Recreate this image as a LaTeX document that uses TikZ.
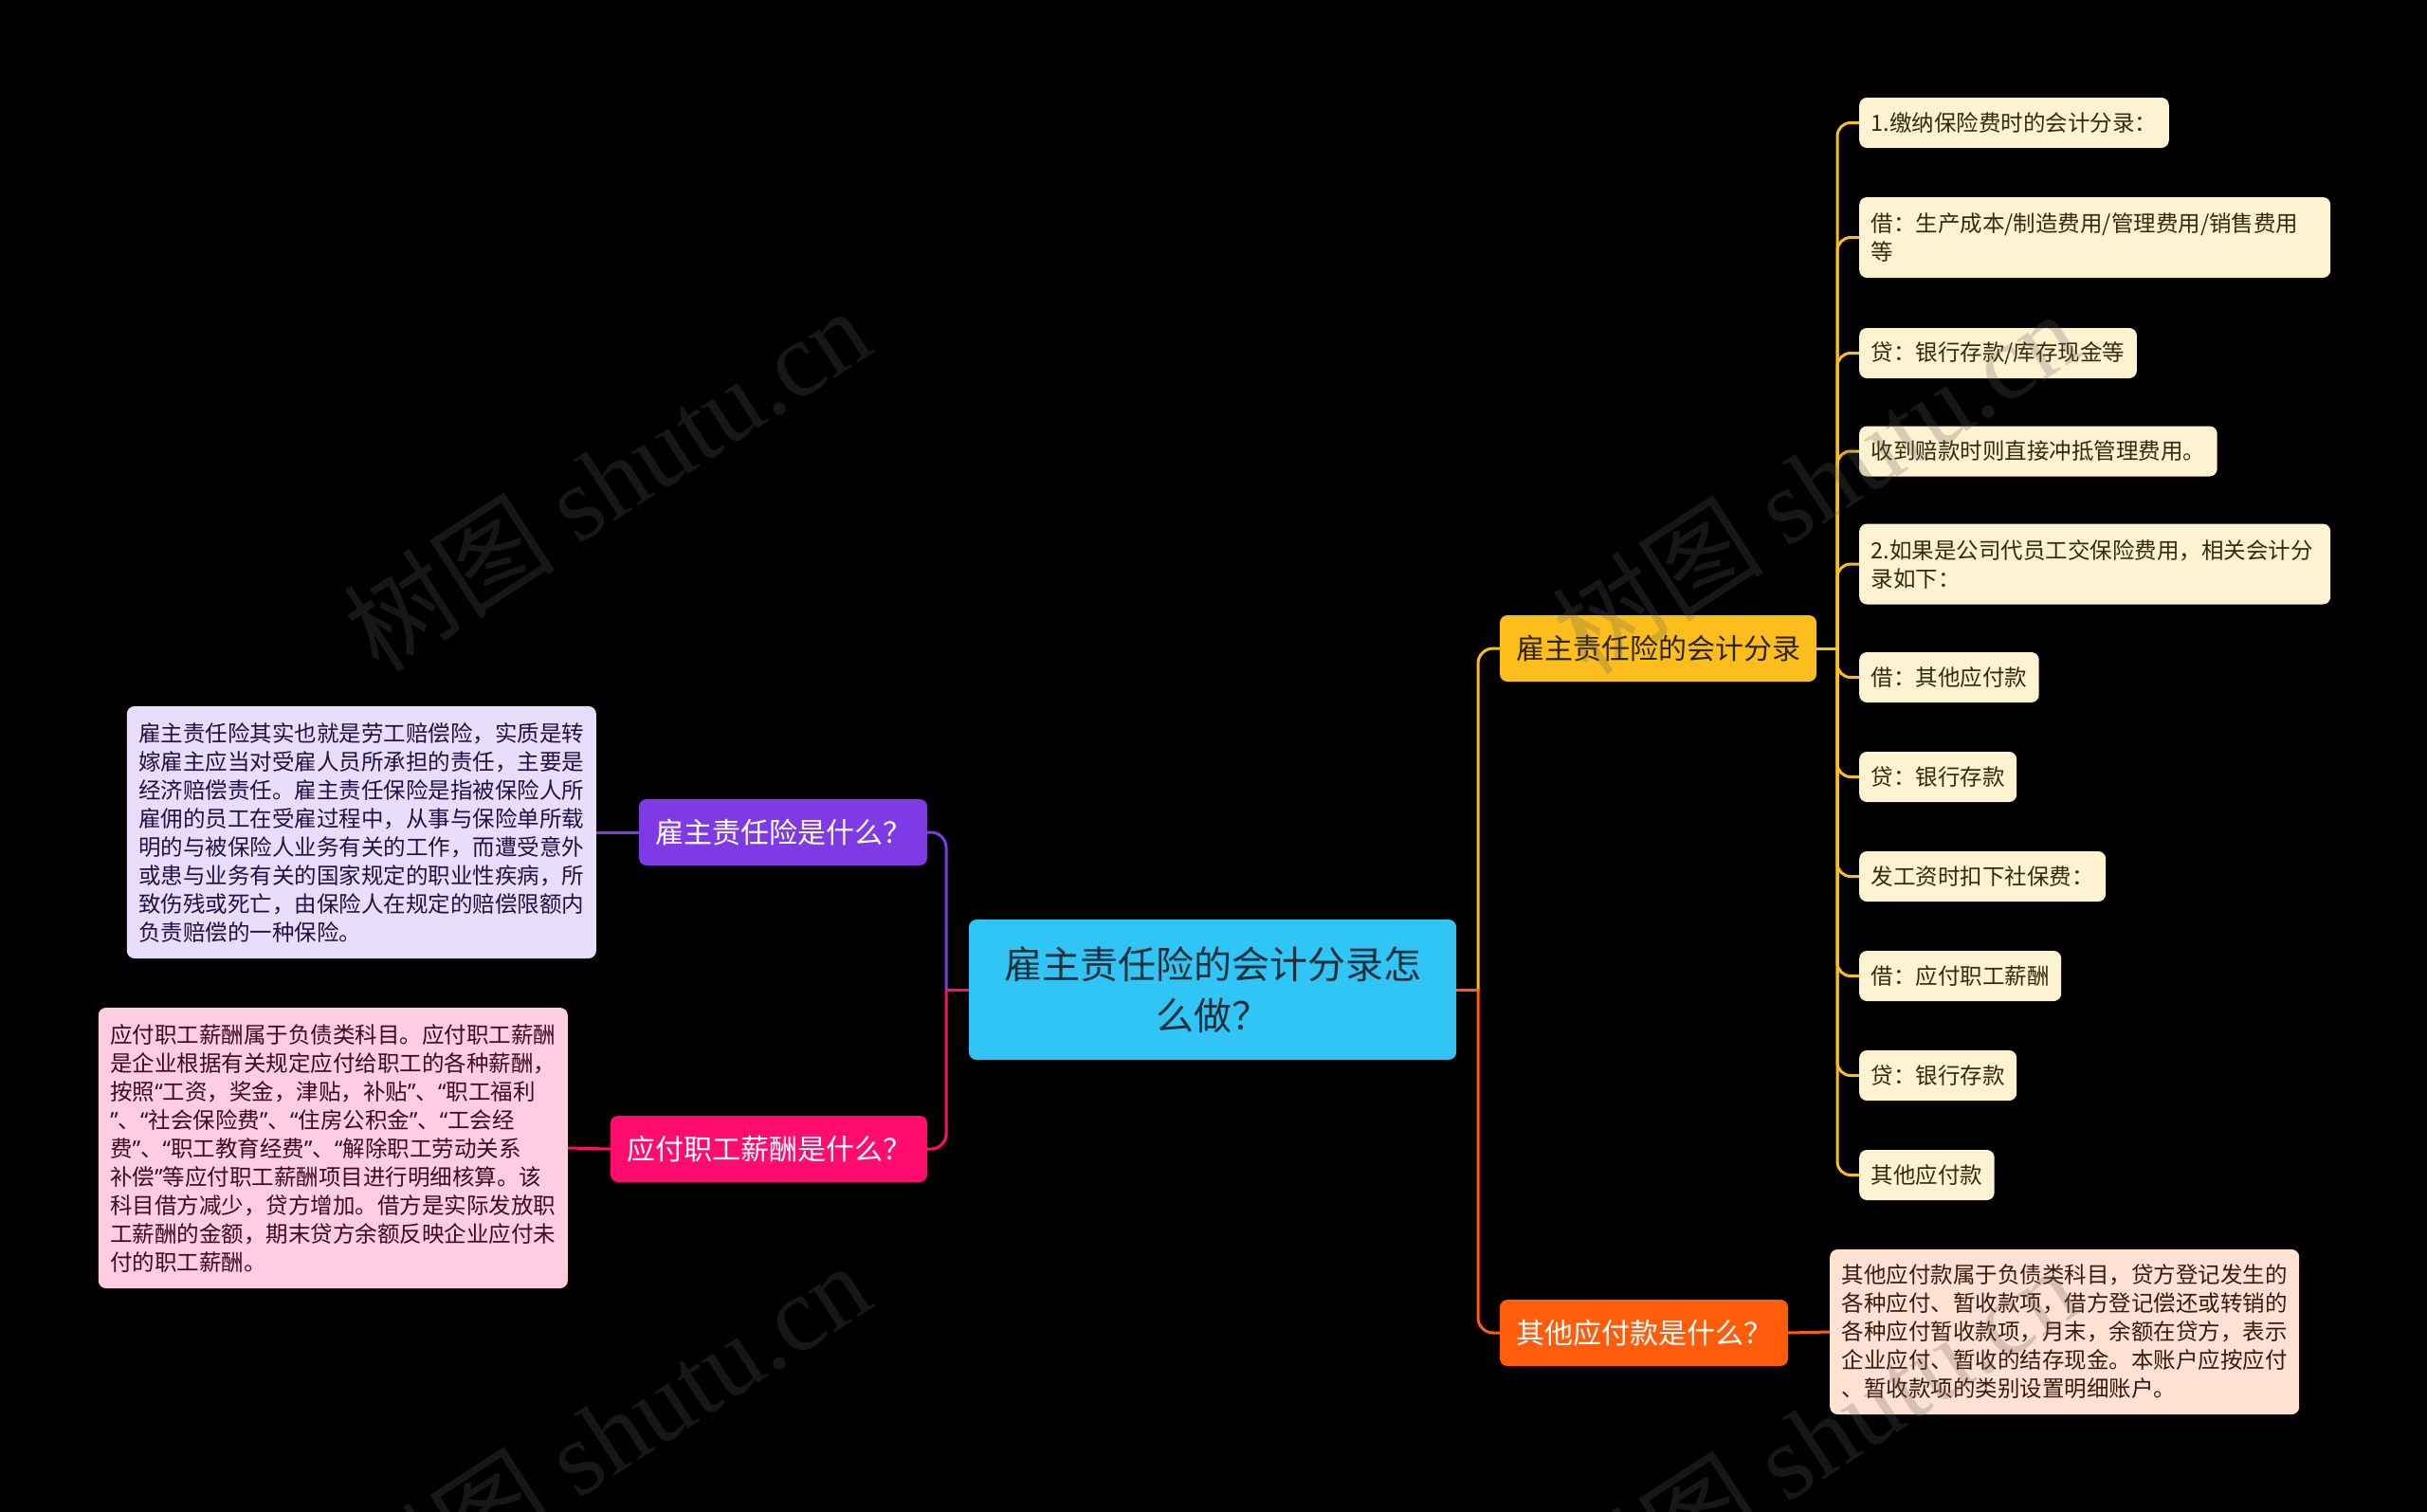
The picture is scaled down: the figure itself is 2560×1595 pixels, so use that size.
\documentclass[tikz,border=0pt]{standalone}
\usepackage{fontspec}
\setmainfont{Noto Sans CJK SC}
\newfontfamily\wmlatin{Liberation Serif}
\newfontfamily\qfont{Noto Sans}
\newcommand{\myqo}{{\qfont “}}
\newcommand{\myqc}{{\qfont ”}}
\usetikzlibrary{backgrounds}
\definecolor{cCen}{RGB}{48,197,245}
\definecolor{cCenT}{RGB}{28,48,60}
\definecolor{cPur}{RGB}{126,58,228}
\definecolor{cPink}{RGB}{255,12,110}
\definecolor{cYel}{RGB}{251,190,28}
\definecolor{cYelT}{RGB}{45,35,5}
\definecolor{cOra}{RGB}{255,92,12}
\definecolor{cLav}{RGB}{232,222,251}
\definecolor{cLavT}{RGB}{35,15,70}
\definecolor{cPinkL}{RGB}{255,205,226}
\definecolor{cPinkT}{RGB}{60,10,30}
\definecolor{cCream}{RGB}{254,243,209}
\definecolor{cCreamT}{RGB}{55,42,10}
\definecolor{cPeach}{RGB}{255,226,212}
\definecolor{cPeachT}{RGB}{60,25,10}
\definecolor{cWm}{RGB}{95,95,95}
\begin{document}
\begin{tikzpicture}[x=1pt,y=-1pt,
  base/.style={rounded corners=8pt, inner ysep=0pt},
  branch/.style={base, minimum height=70pt, inner xsep=0pt, align=center, font=\fontsize{30}{36}\selectfont},
  leaf/.style={base, inner xsep=12.5pt, align=left, font=\fontsize{23.5}{30}\selectfont, anchor=west},
  cream/.style={leaf, fill=cCream, text=cCreamT, minimum height=53pt},
  conn/.style={line width=3pt},
  wm/.style={rotate=33, text=cWm, text opacity=0.25, font=\fontsize{112}{112}\selectfont}
]
\useasboundingbox (0,0) rectangle (2560,1595);

% central and branches
\node[base, fill=cCen, text=cCenT, minimum width=514pt, minimum height=148pt, align=center, font=\fontsize{40}{54}\selectfont] (cen) at (1279,1044) {雇主责任险的会计分录怎\\么做？};
\node[branch, fill=cPur, text=white, minimum width=304pt] (pur) at (826,878) {雇主责任险是什么？};
\node[branch, fill=cPink, text=white, minimum width=334pt] (pnk) at (811,1212) {应付职工薪酬是什么？};
\node[branch, fill=cYel, text=cYelT, minimum width=334pt] (yel) at (1749,684) {雇主责任险的会计分录};
\node[branch, fill=cOra, text=white, minimum width=304pt] (ora) at (1734,1406) {其他应付款是什么？};

% left leaves
\node[leaf, anchor=east, fill=cLav, text=cLavT, minimum height=266pt] (lav) at (629,878) {雇主责任险其实也就是劳工赔偿险，实质是转\\嫁雇主应当对受雇人员所承担的责任，主要是\\经济赔偿责任。雇主责任保险是指被保险人所\\雇佣的员工在受雇过程中，从事与保险单所载\\明的与被保险人业务有关的工作，而遭受意外\\或患与业务有关的国家规定的职业性疾病，所\\致伤残或死亡，由保险人在规定的赔偿限额内\\负责赔偿的一种保险。};
\node[leaf, anchor=east, fill=cPinkL, text=cPinkT, minimum height=296pt] (pkl) at (599,1211) {应付职工薪酬属于负债类科目。应付职工薪酬\\是企业根据有关规定应付给职工的各种薪酬，\\按照\myqo 工资，奖金，津贴，补贴\myqc 、\myqo 职工福利\\\myqc 、\myqo 社会保险费\myqc 、\myqo 住房公积金\myqc 、\myqo 工会经\\费\myqc 、\myqo 职工教育经费\myqc 、\myqo 解除职工劳动关系\\补偿\myqc 等应付职工薪酬项目进行明细核算。该\\科目借方减少，贷方增加。借方是实际发放职\\工薪酬的金额，期末贷方余额反映企业应付未\\付的职工薪酬。};

% right leaves
\node[leaf, fill=cPeach, text=cPeachT, minimum height=174pt] (pch) at (1930,1405) {其他应付款属于负债类科目，贷方登记发生的\\各种应付、暂收款项，借方登记偿还或转销的\\各种应付暂收款项，月末，余额在贷方，表示\\企业应付、暂收的结存现金。本账户应按应付\\、暂收款项的类别设置明细账户。};

\node[cream] (l1) at (1961,129.5) {1.缴纳保险费时的会计分录：};
\node[cream, minimum height=85pt, text width=472pt] (l2) at (1961,250.5) {借：生产成本/制造费用/管理费用/销售费用\\等};
\node[cream] (l3) at (1961,372.5) {贷：银行存款/库存现金等};
\node[cream] (l4) at (1961,476) {收到赔款时则直接冲抵管理费用。};
\node[cream, minimum height=85pt, text width=472pt] (l5) at (1961,595) {2.如果是公司代员工交保险费用，相关会计分\\录如下：};
\node[cream] (l6) at (1961,714.5) {借：其他应付款};
\node[cream] (l7) at (1961,819.5) {贷：银行存款};
\node[cream] (l8) at (1961,924.5) {发工资时扣下社保费：};
\node[cream] (l9) at (1961,1029.5) {借：应付职工薪酬};
\node[cream] (l10) at (1961,1134.5) {贷：银行存款};
\node[cream] (l11) at (1961,1239.5) {其他应付款};

\coordinate (lj) at (998,1044);
\coordinate (rj) at (1559,1044);
\coordinate (yj) at (1938,684);

\begin{scope}[on background layer]
\fill[black] (0,0) rectangle (2560,1595);
\draw[conn, cPur, rounded corners=16pt] (lj) |- (pur.east);
\draw[conn, cPink, rounded corners=16pt] (lj) |- (pnk.east);
\draw[conn, cPink] (cen.west) -- ([xshift=-1.5pt]lj);
\draw[conn, cPur] (pur.west) -- (lav.east);
\draw[conn, cPink] (pnk.west) -- (pkl.east);
\draw[conn, cYel, rounded corners=16pt] (rj) |- (yel.west);
\draw[conn, cOra, rounded corners=16pt] (rj) |- (ora.west);
\draw[conn, cOra] (cen.east) -- ([xshift=1.5pt]rj);
\draw[conn, cOra] (ora.east) -- (pch.west);
\draw[conn, cYel] (yel.east) -- ([xshift=1.5pt]yj);
\foreach \n in {l1,l2,l3,l4,l5,l6,l7,l8,l9,l10,l11}
  \draw[conn, cYel, rounded corners=14pt] (yj) |- (\n.west);
\end{scope}

% watermarks
\node[wm] (w1) at (640,505) {树图 {\wmlatin shutu.cn}};
\node[wm] (w2) at (1915,508) {树图 {\wmlatin shutu.cn}};
\node[wm] (w3) at (640,1512) {树图 {\wmlatin shutu.cn}};
\node[wm] (w4) at (1915,1516) {树图 {\wmlatin shutu.cn}};
\end{tikzpicture}
\end{document}
